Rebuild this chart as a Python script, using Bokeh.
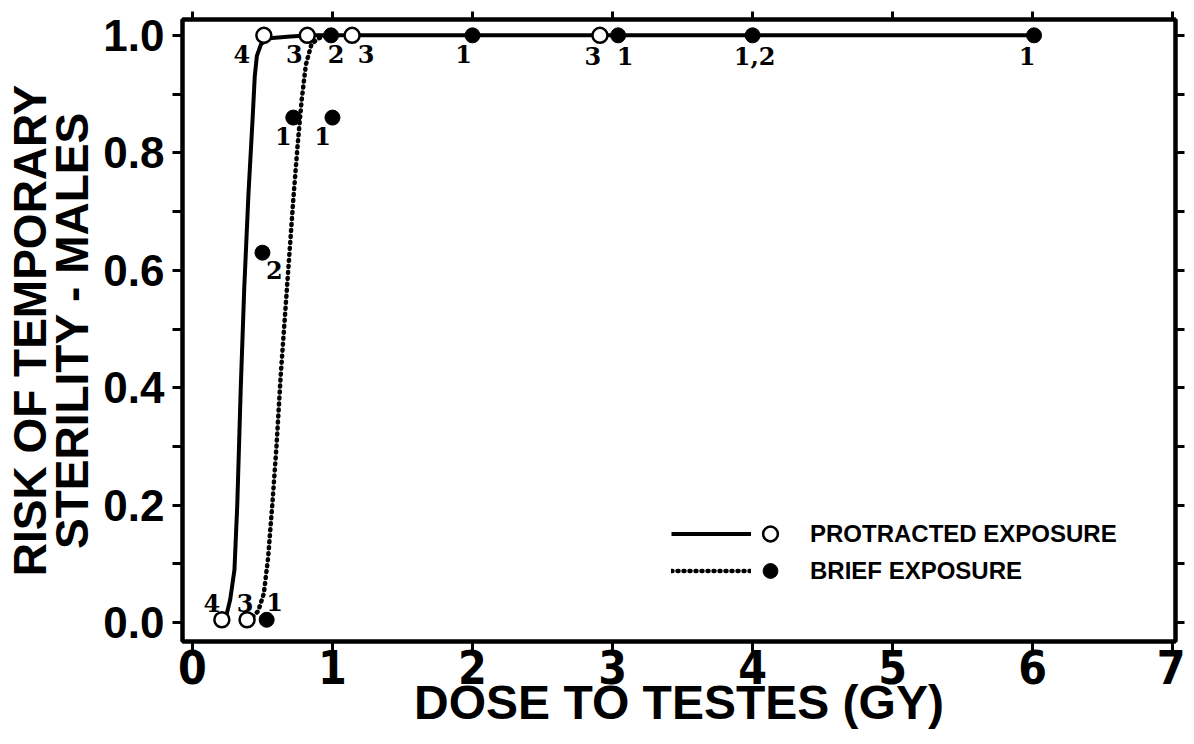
from bokeh.plotting import figure
from bokeh.models import (Range1d, LinearAxis, FixedTicker, Legend, LegendItem,
                          ColumnDataSource, NumeralTickFormatter)
from bokeh.core.properties import value
from bokeh.embed import file_html
from bokeh.resources import INLINE

# ---------------- data ----------------
# Protracted exposure (open circles)
prot_x = [0.21, 0.39, 0.51, 0.82, 1.14, 2.91]
prot_y = [0.005, 0.005, 1.0, 1.0, 1.0, 1.0]
prot_n = ["4", "3", "4", "3", "3", "3"]

# Brief exposure (filled circles)
brief_x = [0.53, 0.50, 0.72, 1.00, 0.99, 2.00, 3.04, 4.00, 6.01]
brief_y = [0.005, 0.63, 0.86, 0.86, 1.0, 1.0, 1.0, 1.0, 1.0]
brief_n = ["1", "2", "1", "1", "2", "1", "1", "1,2", "1"]

# Fitted curves as drawn
prot_curve_x = [0.24, 0.27, 0.30, 0.32, 0.345, 0.37, 0.40, 0.43, 0.445, 0.46,
                0.49, 0.55, 0.70, 0.85, 6.0]
prot_curve_y = [0.01, 0.04, 0.09, 0.20, 0.40, 0.57, 0.73, 0.86, 0.93, 0.965,
                0.985, 0.995, 0.998, 1.0, 1.0]

brief_curve_x = [0.43, 0.47, 0.51, 0.54, 0.57, 0.60, 0.63, 0.66, 0.69, 0.72,
                 0.75, 0.78, 0.81, 0.85, 0.90, 0.96, 1.0]
brief_curve_y = [0.01, 0.02, 0.05, 0.11, 0.20, 0.30, 0.42, 0.52, 0.62, 0.72,
                 0.81, 0.89, 0.95, 0.985, 0.995, 1.0, 1.0]

# label offsets (screen px) for the count labels next to each point
prot_dx = [-10, -2, -22, -13, 14, -7]
prot_dy = [-17, -17, 19, 19, 19, 21]
brief_dx = [8, 12, -10, -10, 5, -9, 7, 2, -7]
brief_dy = [-18, 17, 18, 18, 19, 19, 21, 21, 21]

x_ticks = [0, 1, 2, 3, 4, 5, 6, 7]
y_ticks = [0.0, 0.2, 0.4, 0.6, 0.8, 1.0]
y_minor = [0.1, 0.3, 0.5, 0.7, 0.9]
y_all = [0.0, 0.1, 0.2, 0.3, 0.4, 0.5, 0.6, 0.7, 0.8, 0.9, 1.0]

x_title = "DOSE TO TESTES (GY)"
y_title_1 = "RISK OF TEMPORARY"
y_title_2 = "STERILITY - MALES"
leg_labels = ["PROTRACTED EXPOSURE", "BRIEF EXPOSURE"]

BOLD_SANS = "Liberation Sans"

# ---------------- figure ----------------
p = figure(frame_width=993, frame_height=622, output_backend="svg",
           toolbar_location=None,
           x_range=Range1d(-0.071, 7.02), y_range=Range1d(-0.032, 1.027),
           min_border_left=100, min_border_right=10, min_border_top=19,
           min_border_bottom=90)
p.xgrid.visible = False
p.ygrid.visible = False
p.outline_line_color = "black"
p.outline_line_width = 4
p.background_fill_color = "white"
p.border_fill_color = "white"

ax = p.xaxis[0]
ax.ticker = FixedTicker(ticks=x_ticks)
ax.axis_line_width = 4
ax.major_tick_line_width = 3
ax.major_tick_out = 10
ax.major_tick_in = 0
ax.minor_tick_line_color = None
ax.major_label_text_font = "'Liberation Sans Narrow', 'DejaVu Sans Condensed', 'Liberation Sans'"
ax.major_label_text_font_style = "bold"
ax.major_label_text_font_size = "46px"
ax.major_label_text_color = "black"
ax.major_label_standoff = -2
ax.axis_label = x_title
ax.axis_label_text_font = BOLD_SANS
ax.axis_label_text_font_style = "bold"
ax.axis_label_text_font_size = "48px"
ax.axis_label_text_color = "black"
ax.axis_label_standoff = -11

ay = p.yaxis[0]
ay.ticker = FixedTicker(ticks=y_ticks, minor_ticks=y_minor)
ay.formatter = NumeralTickFormatter(format="0.0")
ay.axis_line_width = 4
ay.major_tick_line_width = 3
ay.major_tick_out = 10
ay.major_tick_in = 0
ay.minor_tick_line_width = 3
ay.minor_tick_out = 10
ay.minor_tick_in = 0
ay.major_label_text_font = BOLD_SANS
ay.major_label_text_font_style = "bold"
ay.major_label_text_font_size = "44px"
ay.major_label_text_color = "black"
ay.major_label_standoff = 8
ay.axis_label = y_title_2
ay.axis_label_text_font = BOLD_SANS
ay.axis_label_text_font_style = "bold"
ay.axis_label_text_font_size = "46px"
ay.axis_label_text_color = "black"
ay.axis_label_standoff = 2

# outer left axis carrying only the first line of the y title
ay2 = LinearAxis(ticker=FixedTicker(ticks=[]))
ay2.axis_line_color = None
ay2.major_tick_line_color = None
ay2.minor_tick_line_color = None
ay2.major_tick_out = 0
ay2.major_label_text_font_size = "1px"
ay2.major_label_text_color = None
ay2.major_label_standoff = 0
ay2.axis_label = y_title_1
ay2.axis_label_text_font = BOLD_SANS
ay2.axis_label_text_font_style = "bold"
ay2.axis_label_text_font_size = "46px"
ay2.axis_label_text_color = "black"
ay2.axis_label_standoff = -12
p.add_layout(ay2, "left")

right = LinearAxis(ticker=FixedTicker(ticks=y_all))
right.axis_line_width = 4
right.major_tick_line_width = 3
right.major_tick_out = 9
right.major_tick_in = 0
right.minor_tick_line_color = None
right.major_label_text_font_size = "1px"
right.major_label_text_color = None
right.major_label_standoff = 0
p.add_layout(right, "right")

top = LinearAxis(ticker=FixedTicker(ticks=x_ticks))
top.axis_line_width = 4
top.major_tick_line_width = 3
top.major_tick_out = 8
top.major_tick_in = 0
top.minor_tick_line_color = None
top.major_label_text_font_size = "1px"
top.major_label_text_color = None
top.major_label_standoff = 0
p.add_layout(top, "above")

# ---------------- curves ----------------
r_prot_line = p.line(prot_curve_x, prot_curve_y, line_color="black", line_width=4)
r_brief_line = p.line(brief_curve_x, brief_curve_y, line_color="black",
                      line_width=4.5, line_dash="1 5", line_cap="round")

# ---------------- points ----------------
r_prot_pts = p.scatter(prot_x, prot_y, marker="circle", size=15,
                       fill_color="white", line_color="black", line_width=2.5)
r_brief_pts = p.scatter(brief_x, brief_y, marker="circle", size=15,
                        fill_color="black", line_color="black", line_width=1)

lab = ColumnDataSource(dict(x=prot_x + brief_x, y=prot_y + brief_y,
                            t=prot_n + brief_n, dx=prot_dx + brief_dx,
                            dy=prot_dy + brief_dy))
p.text(x="x", y="y", text="t", x_offset="dx", y_offset="dy", source=lab,
       text_font=value("DejaVu Serif"), text_font_style="bold",
       text_font_size="24px", text_align="center", text_baseline="middle",
       text_color="black")

# ---------------- legend ----------------
leg_lines = Legend(items=[LegendItem(label=" ", renderers=[r_prot_line]),
                          LegendItem(label=" ", renderers=[r_brief_line])],
                   location=(489, 52), orientation="vertical",
                   glyph_width=80, glyph_height=37, label_height=20,
                   label_text_font_size="1px", label_text_color=None,
                   label_standoff=0, spacing=0, padding=0, margin=0,
                   border_line_alpha=0, background_fill_alpha=0)
leg_pts = Legend(items=[LegendItem(label=leg_labels[0], renderers=[r_prot_pts]),
                        LegendItem(label=leg_labels[1], renderers=[r_brief_pts])],
                 location=(568, 52), orientation="vertical",
                 glyph_width=40, glyph_height=37, label_height=20,
                 label_text_font=BOLD_SANS, label_text_font_style="bold",
                 label_text_font_size="24px", label_text_color="black",
                 label_standoff=20, spacing=0, padding=0, margin=0,
                 border_line_alpha=0, background_fill_alpha=0)
p.add_layout(leg_lines)
p.add_layout(leg_pts)

open("out.html", "w").write(file_html(p, INLINE))
